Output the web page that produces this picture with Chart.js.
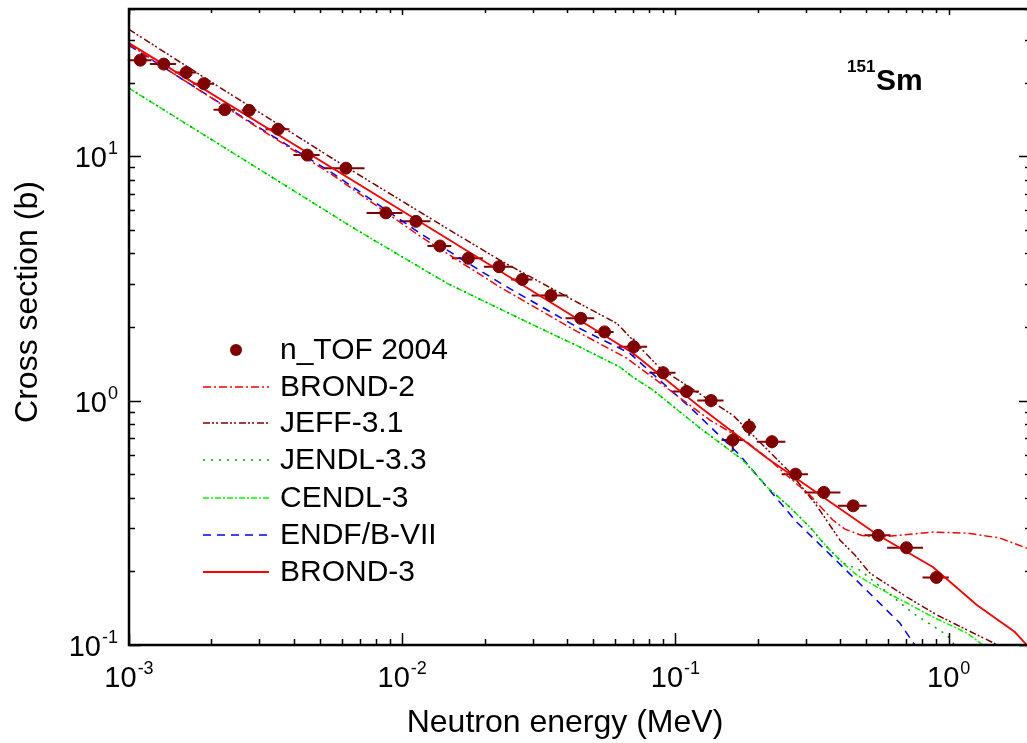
<!DOCTYPE html>
<html>
<head>
<meta charset="utf-8">
<script src="https://cdn.jsdelivr.net/npm/chart.js@4.4.1/dist/chart.umd.min.js"></script>
<style>
  html, body { margin: 0; padding: 0; overflow: hidden; background: #fff; }
  #wrap { width: 1040px; height: 743px; }
</style>
</head>
<body>
<div id="wrap"><canvas id="chart" width="1040" height="743"></canvas></div>
<script>
// n_TOF 2004 measured points (MeV, barn) and error bars (percent)
const tofEnergy = [0.00110, 0.00134, 0.00162, 0.00188, 0.00224, 0.00275, 0.00351, 0.00449, 0.00622, 0.00871,
  0.01122, 0.01374, 0.01745, 0.0226, 0.0275, 0.0350, 0.0450, 0.0550, 0.0703, 0.0901,
  0.1097, 0.135, 0.162, 0.186, 0.2254, 0.275, 0.349, 0.447, 0.552, 0.700, 0.901];
const tofSigma = [24.7, 23.8, 22.0, 19.8, 15.5, 15.4, 12.9, 10.1, 8.93, 5.86,
  5.41, 4.29, 3.82, 3.53, 3.13, 2.69, 2.17, 1.91, 1.66, 1.30,
  1.09, 1.00, 0.689, 0.781, 0.679, 0.500, 0.421, 0.371, 0.281, 0.250, 0.189];
const tofErrE = [10, 11, 9, 9, 9, 6, 10, 11, 17, 15, 13, 10, 13, 12, 9, 15, 12, 8, 12, 11,
  11, 11, 9, 6, 12, 11, 15, 12, 11, 15, 11];
const tofErrS = [2, 2, 2, 2, 2, 2, 3, 3, 3, 3, 3, 4, 4, 4, 4, 4, 5, 5, 8, 6,
  6, 6, 10, 8, 6, 5, 6, 5, 5, 5, 5];

// evaluated libraries
const brond2E = [0.001, 0.00158, 0.00309, 0.00557, 0.0116, 0.0228, 0.0435, 0.0664, 0.0930, 0.1337, 0.1825, 0.2215,
  0.2622, 0.310, 0.3766, 0.417, 0.481, 0.560, 0.8746, 1.165, 1.538, 1.93, 2.0];
const brond2S = [28.7, 20.5, 12.7, 8.36, 4.71, 2.91, 1.92, 1.49, 1.125, 0.832, 0.677, 0.571,
  0.482, 0.411, 0.3245, 0.298, 0.2806, 0.2765, 0.2897, 0.287, 0.274, 0.249, 0.246];

const jeffE = [0.001, 0.00215, 0.00607, 0.01533, 0.0228, 0.0421, 0.0610, 0.0710, 0.0877, 0.162, 0.227, 0.262,
  0.3236, 0.3995, 0.4533, 0.5143, 0.619, 0.7027, 0.9046, 1.126, 1.45, 1.55];
const jeffS = [33.0, 19.1, 9.19, 4.89, 3.75, 2.58, 2.07, 1.735, 1.358, 0.872, 0.599, 0.510,
  0.381, 0.269, 0.2334, 0.197, 0.172, 0.157, 0.1327, 0.1175, 0.1023, 0.098];

const jendlE = [0.001, 0.00683, 0.01457, 0.0301, 0.0447, 0.0626, 0.0698, 0.0827, 0.1229, 0.1765, 0.216, 0.262,
  0.310, 0.358, 0.410, 0.473, 0.739, 0.984, 1.05];
const jendlS = [18.97, 4.98, 3.02, 2.04, 1.655, 1.371, 1.248, 1.104, 0.772, 0.571, 0.443, 0.3667,
  0.304, 0.252, 0.2165, 0.2025, 0.135, 0.110, 0.100];

const cendlE = [0.001, 0.00683, 0.01457, 0.0301, 0.0447, 0.0626, 0.0698, 0.0827, 0.1229, 0.1765, 0.216, 0.262,
  0.310, 0.358, 0.410, 0.461, 0.5455, 0.7027, 0.8746, 1.165, 1.333, 1.40];
const cendlS = [18.97, 4.98, 3.02, 2.04, 1.655, 1.371, 1.248, 1.104, 0.772, 0.571, 0.443, 0.3667,
  0.304, 0.252, 0.2165, 0.1933, 0.1727, 0.1485, 0.1302, 0.112, 0.100, 0.096];

const endfE = [0.001, 0.00158, 0.00309, 0.00557, 0.0116, 0.0228, 0.0435, 0.0681, 0.1159, 0.172, 0.278, 0.446,
  0.662, 0.751];
const endfS = [28.4, 20.5, 12.8, 8.51, 4.84, 3.03, 2.00, 1.56, 0.914, 0.598, 0.318, 0.190,
  0.123, 0.100];

const brond3E = [0.001, 0.01494, 0.0698, 0.1229, 0.216, 0.550, 0.8746, 1.267, 1.746, 1.93, 2.0];
const brond3S = [29.0, 4.53, 1.564, 0.941, 0.582, 0.2818, 0.2084, 0.1458, 0.113, 0.100, 0.095];

const xTickValues = [0.001, 0.01, 0.1, 1];
const xTickExp = ["-3", "-2", "-1", "0"];
const yTickValues = [0.1, 1, 10];
const yTickExp = ["-1", "0", "1"];

const FONT = "'Liberation Sans', Arial, Helvetica, sans-serif";

function pts(xs, ys) {
  return xs.map((x, i) => ({ x: x, y: ys[i] }));
}

const models = [
  { label: "BROND-2", e: brond2E, s: brond2S, color: "#ff0000", dash: [8, 3, 2, 3], width: 1.5 },
  { label: "JEFF-3.1", e: jeffE, s: jeffS, color: "#800000", dash: [7, 2, 2, 2, 2, 3], width: 1.5 },
  { label: "JENDL-3.3", e: jendlE, s: jendlS, color: "#00a000", dash: [2, 6], width: 1.5 },
  { label: "CENDL-3", e: cendlE, s: cendlS, color: "#00ff00", dash: [6, 2, 2, 2], width: 1.5 },
  { label: "ENDF/B-VII", e: endfE, s: endfS, color: "#0000ff", dash: [8, 6], width: 1.5 },
  { label: "BROND-3", e: brond3E, s: brond3S, color: "#ff0000", dash: [], width: 1.8 }
];

const datasets = models.map(m => ({
  type: "line",
  label: m.label,
  data: pts(m.e, m.s),
  borderColor: m.color,
  borderWidth: m.width,
  borderDash: m.dash,
  pointRadius: 0,
  fill: false,
  tension: 0,
  order: 1
}));

datasets.push({
  type: "scatter",
  label: "n_TOF 2004",
  data: pts(tofEnergy, tofSigma),
  backgroundColor: "#800000",
  borderColor: "#800000",
  pointRadius: 6,
  pointHoverRadius: 6,
  order: 0
});

// horizontal + vertical error bars for the n_TOF points
const errorBars = {
  id: "errorBars",
  beforeDatasetsDraw(chart) {
    const ctx = chart.ctx, xs = chart.scales.x, ys = chart.scales.y;
    ctx.save();
    ctx.strokeStyle = "#800000";
    ctx.lineWidth = 2;
    tofEnergy.forEach((e, i) => {
      const s = tofSigma[i];
      const px = xs.getPixelForValue(e), py = ys.getPixelForValue(s);
      const fe = tofErrE[i] / 100, fs = tofErrS[i] / 100;
      ctx.beginPath();
      ctx.moveTo(xs.getPixelForValue(e * (1 - fe)), py);
      ctx.lineTo(xs.getPixelForValue(e * (1 + fe)), py);
      ctx.moveTo(px, ys.getPixelForValue(s * (1 - fs)));
      ctx.lineTo(px, ys.getPixelForValue(s * (1 + fs)));
      ctx.stroke();
    });
    ctx.restore();
  }
};

function powerLabel(ctx, exp, x, y, align) {
  ctx.font = "29px " + FONT;
  const wb = ctx.measureText("10").width;
  ctx.font = "18px " + FONT;
  const we = ctx.measureText(exp).width;
  const total = wb + we + 1;
  let left = align === "center" ? x - total / 2 : x - total;
  ctx.textBaseline = "alphabetic";
  ctx.textAlign = "left";
  ctx.font = "29px " + FONT;
  ctx.fillText("10", left, y);
  ctx.font = "18px " + FONT;
  ctx.fillText(exp, left + wb + 1, y - 13);
}

// frame, log ticks, tick labels, titles, legend, annotation
const decorations = {
  id: "decorations",
  afterDraw(chart) {
    const ctx = chart.ctx, xs = chart.scales.x, ys = chart.scales.y;
    const a = chart.chartArea;
    ctx.save();
    ctx.strokeStyle = "#000";
    ctx.fillStyle = "#000";

    // frame
    ctx.lineWidth = 2.5;
    ctx.beginPath();
    ctx.moveTo(a.left, a.top);
    ctx.lineTo(a.right, a.top);
    ctx.lineTo(a.right, a.bottom);
    ctx.lineTo(a.left, a.bottom);
    ctx.closePath();
    ctx.stroke();

    // ticks
    ctx.lineWidth = 1.5;
    ctx.beginPath();
    for (let d = -3; d <= 0; d++) {
      for (let k = 1; k <= 9; k++) {
        const v = k * Math.pow(10, d);
        if (v > xs.max * 1.0001) continue;
        const px = Math.round(xs.getPixelForValue(v)) + 0.5;
        const len = k === 1 ? 12 : 6;
        ctx.moveTo(px, a.bottom);
        ctx.lineTo(px, a.bottom - len);
        ctx.moveTo(px, a.top);
        ctx.lineTo(px, a.top + (k === 1 ? 6 : 4));
      }
    }
    for (let d = -1; d <= 1; d++) {
      for (let k = 1; k <= 9; k++) {
        const v = k * Math.pow(10, d);
        if (v > ys.max * 1.0001) continue;
        const py = Math.round(ys.getPixelForValue(v)) + 0.5;
        const len = k === 1 ? 12 : 6;
        ctx.moveTo(a.left, py);
        ctx.lineTo(a.left + len, py);
        ctx.moveTo(a.right, py);
        ctx.lineTo(a.right - len, py);
      }
    }
    ctx.stroke();

    // tick labels
    xTickValues.forEach((v, i) => {
      powerLabel(ctx, xTickExp[i], xs.getPixelForValue(v), a.bottom + 42, "center");
    });
    yTickValues.forEach((v, i) => {
      powerLabel(ctx, yTickExp[i], a.left - 11, ys.getPixelForValue(v) + 11, "right");
    });

    // axis titles
    ctx.font = "32px " + FONT;
    ctx.textAlign = "center";
    ctx.textBaseline = "alphabetic";
    ctx.fillText("Neutron energy (MeV)", 565, 732);
    ctx.save();
    ctx.translate(37, 302);
    ctx.rotate(-Math.PI / 2);
    ctx.fillText("Cross section (b)", 0, 0);
    ctx.restore();

    // nuclide annotation
    ctx.textAlign = "left";
    ctx.font = "bold 17px " + FONT;
    ctx.fillText("151", 847, 72);
    ctx.font = "bold 30px " + FONT;
    ctx.fillText("Sm", 876, 90);

    // legend
    const rowY = [350, 387, 423, 460, 498, 535, 572];
    ctx.font = "30px " + FONT;
    ctx.textBaseline = "middle";
    ctx.fillStyle = "#800000";
    ctx.beginPath();
    ctx.arc(236, rowY[0], 6, 0, Math.PI * 2);
    ctx.fill();
    ctx.fillStyle = "#000";
    ctx.fillText("n_TOF 2004", 280, rowY[0] + 1);
    models.forEach((m, i) => {
      const y = rowY[i + 1];
      ctx.strokeStyle = m.color;
      ctx.lineWidth = m.width;
      ctx.setLineDash(m.dash);
      ctx.beginPath();
      ctx.moveTo(203, y);
      ctx.lineTo(269, y);
      ctx.stroke();
      ctx.setLineDash([]);
      ctx.fillText(m.label, 280, y + 1);
    });
    ctx.restore();
  }
};

new Chart(document.getElementById("chart"), {
  data: { datasets: datasets },
  options: {
    responsive: false,
    animation: false,
    layout: { padding: { left: 129, right: 9, top: 9, bottom: 98 } },
    plugins: { legend: { display: false }, tooltip: { enabled: false } },
    scales: {
      x: { type: "logarithmic", min: 0.001, max: 2, display: false },
      y: { type: "logarithmic", min: 0.1, max: 40, display: false }
    }
  },
  plugins: [errorBars, decorations]
});
</script>
</body>
</html>
